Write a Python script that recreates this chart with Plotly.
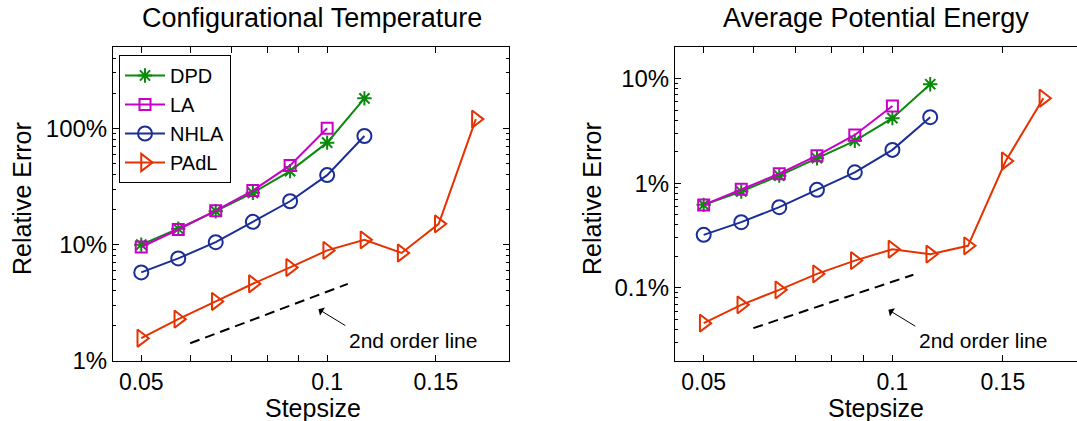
import numpy as np
import plotly.graph_objects as go

# ---------------- data ----------------
steps = [0.05, 0.0574, 0.066, 0.0758, 0.0871, 0.1, 0.1149, 0.132, 0.1516, 0.1741]

ct_dpd = [10.0, 13.7, 19.4, 27.9, 42.9, 75.3, 181]
ct_la = [9.55, 13.5, 19.6, 29.2, 48.0, 100]
ct_nhla = [5.77, 7.62, 10.5, 15.7, 23.6, 39.6, 85.9]
ct_padl = [1.57, 2.29, 3.25, 4.61, 6.37, 8.93, 11.0, 8.48, 15.1, 120]

pe_dpd = [0.621, 0.832, 1.18, 1.73, 2.54, 4.18, 8.82]
pe_la = [0.62, 0.876, 1.23, 1.83, 2.89, 5.47]
pe_nhla = [0.321, 0.424, 0.590, 0.863, 1.27, 2.08, 4.27]
pe_padl = [0.046, 0.0688, 0.0957, 0.136, 0.182, 0.234, 0.210, 0.252, 1.63, 6.48]

order_x = [0.06, 0.108]
ct_order_y = [1.42, 4.6]
pe_order_y = [0.0412, 0.1335]

names = ["DPD", "LA", "NHLA", "PAdL"]
x_tickvals = [0.05, 0.06, 0.07, 0.08, 0.09, 0.1, 0.15]
x_ticktext = ["0.05", "", "", "", "", "0.1", "0.15"]
ct_yticks = [1, 10, 100]
ct_ytext = ["1%", "10%", "100%"]
pe_yticks = [0.1, 1, 10]
pe_ytext = ["0.1%", "1%", "10%"]

# ---------------- styles ----------------
FONT = "Liberation Sans, Arial, sans-serif"
colors = {"DPD": "#0a8a0a", "LA": "#c800c8", "NHLA": "#1a2e96", "PAdL": "#e63200"}
symbols = {"DPD": "asterisk-open", "LA": "square-open", "NHLA": "circle-open",
           "PAdL": "triangle-right-open"}
sizes = {"DPD": 12, "LA": 11, "NHLA": 14, "PAdL": 15}

W, H = 1077, 421
def px_x(p):
    return p / W
def px_y(p):
    return (H - p) / H

fig = go.Figure()

def add_series(xa, ya, data, show):
    for nm, vals in zip(names, data):
        fig.add_trace(go.Scatter(
            x=steps[:len(vals)], y=vals, name=nm, mode="lines+markers",
            xaxis=xa, yaxis=ya, showlegend=show, legendgroup=nm,
            line=dict(color=colors[nm], width=2),
            marker=dict(symbol=symbols[nm], size=sizes[nm], color=colors[nm],
                        line=dict(color=colors[nm], width=2)),
        ))

add_series("x", "y", [ct_dpd, ct_la, ct_nhla, ct_padl], True)
fig.add_trace(go.Scatter(x=order_x, y=ct_order_y, mode="lines", xaxis="x", yaxis="y",
                         showlegend=False, line=dict(color="black", width=2, dash="10px,6px")))
add_series("x2", "y2", [pe_dpd, pe_la, pe_nhla, pe_padl], False)
fig.add_trace(go.Scatter(x=order_x, y=pe_order_y, mode="lines", xaxis="x2", yaxis="y2",
                         showlegend=False, line=dict(color="black", width=2, dash="10px,6px")))

def minor_vals(lo_exp, hi_val):
    out = []
    for e in range(lo_exp, 4):
        for m in range(2, 10):
            v = m * 10.0 ** e
            if v <= hi_val * 1.0001:
                out.append(v)
    return out

xrange_log = [np.log10(0.045), np.log10(0.197)]
common_x = dict(type="log", range=xrange_log, tickmode="array", tickvals=x_tickvals,
                ticktext=x_ticktext, ticks="inside", ticklen=6, tickwidth=1, tickcolor="black",
                showline=True, linecolor="black", linewidth=1, mirror="allticks",
                showgrid=False, zeroline=False, automargin=False,
                tickfont=dict(family=FONT, size=23, color="black"))
common_y = dict(type="log", tickmode="array", ticks="inside", ticklen=6, tickwidth=1,
                tickcolor="black", showline=True, linecolor="black", linewidth=1,
                showgrid=False, zeroline=False, automargin=False,
                tickfont=dict(family=FONT, size=24, color="black"))

ydom = [px_y(361), px_y(47)]
fig.update_layout(
    template="none",
    width=W, height=H, margin=dict(l=0, r=0, t=0, b=0, pad=0, autoexpand=False),
    paper_bgcolor="white", plot_bgcolor="white",
    font=dict(family=FONT, color="black"),
    xaxis=dict(domain=[px_x(113), px_x(509)], anchor="y", **common_x),
    yaxis=dict(domain=ydom, anchor="x", range=[0, np.log10(500)], mirror="allticks",
               tickvals=ct_yticks, ticktext=ct_ytext,
               minor=dict(tickvals=minor_vals(0, 500), ticks="inside", ticklen=3,
                          tickcolor="black", tickwidth=1, showgrid=False),
               **common_y),
    xaxis2=dict(domain=[px_x(675), 1.0], anchor="y2", **common_x),
    yaxis2=dict(domain=ydom, anchor="x2", range=[np.log10(0.02), np.log10(20)], mirror=False,
                tickvals=pe_yticks, ticktext=pe_ytext,
                minor=dict(tickvals=minor_vals(-2, 20), ticks="inside", ticklen=3,
                           tickcolor="black", tickwidth=1, showgrid=False),
                **common_y),
    legend=dict(x=px_x(119), y=px_y(55), xanchor="left", yanchor="top",
                bgcolor="white", bordercolor="black", borderwidth=1,
                font=dict(family=FONT, size=20, color="black"),
                itemwidth=40, tracegroupgap=0),
)

ann = []
def text_ann(x, y, t, size, **kw):
    a = dict(x=x, y=y, xref="paper", yref="paper", text=t, showarrow=False,
             xanchor="center", yanchor="middle",
             font=dict(family=FONT, size=size, color="black"))
    a.update(kw)
    ann.append(a)

text_ann(px_x(312), px_y(18), "Configurational Temperature", 27)
text_ann(px_x(876), px_y(18), "Average Potential Energy", 27)
text_ann(px_x(313), px_y(408), "Stepsize", 25)
text_ann(px_x(876), px_y(408), "Stepsize", 25)
text_ann(px_x(22), px_y(199), "Relative Error", 25, textangle=-90)
text_ann(px_x(592), px_y(199), "Relative Error", 25, textangle=-90)

# arrows and labels for the 2nd order lines (positions in log10 data coords)
for xr, yr, tip, tail, lab in [
    ("x", "y", (np.log10(0.0968), np.log10(2.79)), (np.log10(0.1076), np.log10(1.98)),
     (np.log10(0.1076), np.log10(1.5))),
    ("x2", "y2", (-1.0064, -1.210), (-0.9612, -1.375), (-0.9612, -1.503)),
]:
    ann.append(dict(x=tip[0], y=tip[1], xref=xr, yref=yr, ax=tail[0], ay=tail[1],
                    axref=xr, ayref=yr, text="", showarrow=True, arrowhead=1,
                    arrowsize=1.6, arrowwidth=1, arrowcolor="black", standoff=0))
    ann.append(dict(x=lab[0], y=lab[1], xref=xr, yref=yr, text="2nd order line",
                    showarrow=False, xanchor="left", yanchor="middle",
                    font=dict(family=FONT, size=21, color="black")))

fig.update_layout(annotations=ann)
fig.write_html("out.html", config={"displayModeBar": False},
               post_script="document.body.style.margin='0px';")
